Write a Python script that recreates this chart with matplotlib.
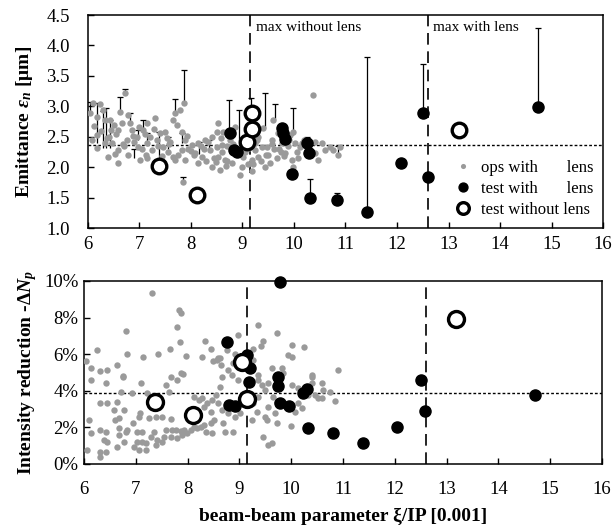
import matplotlib
matplotlib.use('Agg')
import matplotlib.pyplot as plt
import numpy as np

plt.rcParams['font.family'] = ['Liberation Serif', 'DejaVu Serif']
plt.rcParams['mathtext.fontset'] = 'custom'
plt.rcParams['mathtext.rm'] = 'Liberation Serif:bold'
plt.rcParams['mathtext.it'] = 'Liberation Serif:bold:italic'
plt.rcParams['mathtext.bf'] = 'Liberation Serif:bold'

# ---------------- data: top panel (emittance) ----------------
ops_top_x = [6.04,6.10,6.23,6.17,6.29,6.33,6.43,6.45,6.62,6.72,6.78,6.82,6.66,6.58,6.85,6.95,7.07,7.15,7.30,7.40,
             7.53,7.65,7.79,7.86,7.69,7.83,6.17,6.17,6.33,6.47,6.39,6.58,6.58,6.78,6.76,6.97,7.01,7.15,7.25,7.34,
             7.46,7.56,7.65,7.83,7.88,8.02,8.14,8.27,8.41,8.51,8.08,8.21,8.37,8.51,8.14,7.69,7.88,7.15,7.84,8.95,
             8.52,8.62,8.60,8.76,8.85,8.52,8.66,8.80,8.56,9.01,8.99,9.18,9.30,9.40,9.48,9.57,9.59,9.67,9.54,9.44,
             9.77,9.92,9.98,10.02,10.12,9.96,9.83,9.98,10.41,10.54,10.60,10.70,10.76,10.85,10.89,10.41,10.47,9.24,9.38,8.85,
             9.69,10.37,9.18,
             6.08,6.25,6.40,6.55,6.70,6.90,7.05,7.20,7.35,7.50,7.60,7.75,7.95,8.05,8.20,8.30,8.45,8.60,8.70,8.90,
             9.05,9.10,9.25,9.35,9.50,9.62,9.75,9.88,10.05,10.20,8.40,8.70,9.00,9.30,7.10,6.50,
             6.12,6.36,6.52,6.68,6.88,7.00,7.12,7.28,7.44,7.58,7.72,7.92,8.00,8.25,8.33,8.48,8.58,8.68,8.82,9.12,
             9.20,9.28,9.45,9.58,9.70,9.80,9.90,10.08,10.16,10.30]
ops_top_y = [2.89,3.05,3.04,2.83,2.94,2.78,2.78,2.61,2.91,3.22,2.86,2.73,2.73,2.61,2.61,2.50,2.61,2.73,2.81,2.56,
             2.48,2.78,2.94,3.05,2.89,2.58,2.53,2.32,2.40,2.40,2.17,2.28,2.07,2.20,2.45,2.33,2.12,2.40,2.28,2.45,
             2.33,2.25,2.17,2.28,2.45,2.37,2.40,2.45,2.50,2.58,2.23,2.17,2.28,2.33,2.07,2.12,2.12,2.15,1.76,1.87,
             2.73,2.58,2.37,2.45,2.66,2.17,2.12,2.07,1.95,2.17,2.00,2.12,2.17,2.64,2.33,2.45,2.78,2.15,2.07,2.00,
             2.40,2.53,2.58,2.40,2.33,2.12,2.23,2.00,2.42,2.40,2.28,2.33,2.28,2.20,2.33,2.23,2.12,2.28,2.33,2.23,
             2.56,3.19,1.94,
             2.45,2.60,2.50,2.55,2.35,2.42,2.30,2.50,2.35,2.58,2.42,2.20,2.30,2.20,2.35,2.10,2.15,2.25,2.10,2.30,
             2.25,2.05,2.40,2.10,2.20,2.30,2.25,2.35,2.25,2.45,2.00,2.35,2.45,2.50,2.55,2.70,
             2.68,2.48,2.22,2.38,2.52,2.66,2.20,2.62,2.18,2.38,2.70,2.52,2.26,2.30,2.42,2.08,2.48,2.02,2.38,2.32,
             2.05,2.45,2.20,2.38,2.30,2.18,2.45,2.15,2.40,2.30]

# ops points carrying (upper) error bars: base value and top of bar
ops_bar_x   = [6.04,6.17,6.29,6.43,6.62,6.72,6.82,6.97,7.07,7.15,7.37,7.69,7.82,7.86,8.15,8.35,
               8.74,8.93,9.16,9.44,9.63,9.98,7.84,6.35,6.90,7.55,10.25,10.85]
ops_bar_y   = [2.85,2.40,2.32,2.32,2.91,3.22,2.73,2.45,2.61,2.40,2.12,2.89,2.40,3.05,2.22,2.25,
               2.60,2.45,2.60,2.64,2.78,2.53,1.76,2.31,2.15,2.30,2.30,2.20]
ops_bar_top = [3.07,3.05,2.93,2.78,3.15,3.29,2.89,2.61,2.78,2.56,2.58,3.12,2.56,3.60,2.41,2.45,
               3.10,2.94,3.14,3.22,3.04,2.97,1.84,2.98,2.30,2.50,2.50,2.35]

test_top_x  = [8.76,8.83,8.89,9.77,9.79,9.83,9.96,10.25,10.29,10.31,10.83,11.42,12.08,12.50,12.60,14.74]
test_top_y  = [2.56,2.28,2.25,2.64,2.56,2.47,1.89,2.39,2.23,1.50,1.46,1.27,2.07,2.89,1.84,2.99]
test_top_hi = [2.56,2.28,2.25,2.64,2.56,2.47,1.89,2.39,2.23,1.81,1.58,3.81,2.07,3.70,1.84,4.29]

nolens_top_x = [7.38,8.12,9.08,9.18,9.18,13.20]
nolens_top_y = [2.02,1.54,2.42,2.63,2.89,2.61]

# ---------------- data: bottom panel (intensity reduction, %) ----------------
ops_bot_x = [6.04,6.13,6.25,6.31,6.44,6.64,6.75,6.81,6.83,7.14,7.31,7.43,7.66,7.80,7.83,7.87,7.85,7.97,7.91,8.28,
             8.34,8.45,8.49,8.59,
             6.13,6.42,6.44,6.64,6.75,6.71,7.10,6.10,6.13,6.06,6.31,6.42,6.39,6.44,6.31,6.42,6.31,6.58,6.60,6.68,
             6.77,6.68,6.81,6.83,6.68,6.77,6.64,6.95,7.02,7.06,7.12,7.02,7.12,6.97,7.06,7.20,7.20,7.29,7.35,7.41,
             7.51,7.39,7.54,7.58,7.51,7.68,7.70,7.78,7.87,7.93,7.68,7.80,7.89,7.99,8.07,8.12,8.18,8.26,8.32,8.45,
             8.51,8.36,8.47,8.12,8.22,8.28,8.37,8.47,8.55,8.32,8.18,8.45,7.39,7.58,7.64,7.68,7.80,7.87,7.22,
             9.36,9.72,8.97,9.46,9.42,9.26,10.02,10.25,9.94,10.02,8.76,8.63,8.92,8.64,8.78,8.88,9.26,9.36,9.63,9.82,
             9.84,10.40,10.90,8.57,
             8.66,8.86,8.97,9.36,9.44,9.49,9.55,9.65,9.73,10.02,10.13,10.40,10.40,10.59,10.61,10.75,10.46,10.52,10.59,10.32,
             10.13,10.21,10.07,8.59,8.66,8.68,8.78,8.92,8.88,8.72,9.01,9.24,9.34,9.49,9.53,9.46,9.55,9.63,9.69,9.73,
             10.00,8.63,9.36,9.26,9.55,
             6.92,7.08,7.25,6.31,10.85]
ops_bot_y = [5.63,5.25,6.23,5.08,5.14,5.41,4.81,7.27,6.01,5.85,9.34,6.01,6.28,7.49,8.42,8.25,6.67,5.90,4.92,5.85,
             6.72,6.28,5.63,5.79,
             4.59,4.43,3.33,3.39,4.75,3.93,4.43,2.40,1.69,0.77,1.86,1.75,1.31,1.20,0.66,0.66,0.38,2.95,2.40,2.51,
             2.95,1.97,1.75,1.86,1.58,1.20,0.93,2.24,1.75,2.57,1.75,1.20,1.20,0.93,0.77,0.77,1.15,1.48,1.75,1.31,
             1.20,1.04,1.48,1.86,2.57,2.46,1.86,1.86,1.80,1.86,1.48,1.42,1.58,1.69,1.86,2.02,1.97,2.02,2.13,2.24,
             2.40,1.75,1.69,3.66,3.50,3.61,3.33,3.50,3.77,3.11,2.79,2.84,2.57,4.32,3.93,4.75,4.59,4.97,3.88,
             7.60,7.16,7.05,6.72,6.45,6.28,6.50,6.39,5.96,5.85,6.23,5.79,6.01,5.41,5.14,5.52,5.68,4.86,5.25,5.25,
             4.97,4.86,5.14,5.68,
             4.75,4.86,4.59,4.59,4.32,4.04,4.43,3.66,3.39,4.32,4.15,4.75,4.43,4.43,4.04,3.93,3.77,3.61,3.61,3.77,
             3.33,3.06,2.84,3.33,2.95,2.24,2.79,2.57,1.75,1.75,2.79,2.40,2.84,2.57,2.40,1.48,1.04,1.15,2.79,2.24,
             2.08,4.21,3.66,3.33,3.11,
             3.88,2.79,2.50,3.33,3.44]

test_bot_x = [8.76,9.78,9.15,9.20,9.19,8.80,8.91,9.75,9.74,9.78,9.96,10.23,10.30,10.33,10.81,11.39,12.04,12.50,12.58,14.71]
test_bot_y = [6.67,9.95,5.96,5.25,4.48,3.22,3.17,4.75,4.26,3.33,3.17,3.88,4.10,1.97,1.69,1.15,2.02,4.59,2.90,3.77]

nolens_bot_x = [7.37,8.10,9.05,9.15,13.18]
nolens_bot_y = [3.39,2.68,5.57,3.55,7.92]

# reference lines
xi_max_without = 9.15
xi_max_with = 12.6
emit_ref = 2.37
loss_ref = 3.9

x_ticks = [6, 7, 8, 9, 10, 11, 12, 13, 14, 15, 16]
top_ticks = [1.0, 1.5, 2.0, 2.5, 3.0, 3.5, 4.0, 4.5]
bot_ticks = [0, 2, 4, 6, 8, 10]

GRAY = '#9a9a9a'

fig = plt.figure(figsize=(6.14, 5.25), dpi=100)
ax1 = fig.add_axes([0.1433, 0.5657, 0.8388, 0.4057])
ax2 = fig.add_axes([0.1368, 0.1162, 0.8436, 0.3486])

# ---- top panel ----
ax1.vlines(ops_bar_x, ops_bar_y, ops_bar_top, color='black', lw=0.9, zorder=2)
ax1.plot(ops_bar_x, ops_bar_top, ls='none', marker='_', ms=5, mew=0.9, color='black', zorder=2)
ax1.plot(ops_top_x, ops_top_y, ls='none', marker='o', ms=4.6, color=GRAY, mec='none', zorder=3,
         label='ops with       lens')
ax1.vlines(test_top_x, test_top_y, test_top_hi, color='black', lw=0.9, zorder=4)
tx = np.array(test_top_x); ty = np.array(test_top_y); th = np.array(test_top_hi)
m = th > ty
ax1.plot(tx[m], th[m], ls='none', marker='_', ms=5, mew=0.9, color='black', zorder=4)
ax1.plot(test_top_x, test_top_y, ls='none', marker='o', ms=8, color='black', zorder=5,
         label='test with       lens')
ax1.plot(nolens_top_x, nolens_top_y, ls='none', marker='o', ms=10.5, mfc='white', mec='black', mew=2.4,
         zorder=6, label='test without lens')

ax1.axvline(xi_max_without, color='black', lw=1.2, dashes=(7, 4), zorder=1)
ax1.axvline(xi_max_with, color='black', lw=1.2, dashes=(7, 4), zorder=1)
ax1.axhline(emit_ref, color='black', lw=1.0, dashes=(2, 1.5), zorder=1)
ax1.text(xi_max_without + 0.12, 4.3, 'max without lens', fontsize=11, va='center', ha='left')
ax1.text(xi_max_with + 0.1, 4.3, 'max with lens', fontsize=11, va='center', ha='left')

ax1.set_xlim(6, 16)
ax1.set_ylim(1.0, 4.5)
ax1.set_xticks(x_ticks)
ax1.set_yticks(top_ticks)
ax1.set_yticklabels([f'{v:.1f}' for v in top_ticks])
ax1.set_ylabel(r'Emittance $\varepsilon_n$ [μm]', fontsize=14, fontweight='bold', labelpad=8)
leg = ax1.legend(loc='lower right', frameon=False, fontsize=12, handletextpad=0.35,
                 labelspacing=0.3, borderaxespad=0.2, handlelength=1.4, markerscale=0.8)

# ---- bottom panel ----
ax2.plot(ops_bot_x, ops_bot_y, ls='none', marker='o', ms=4.6, color=GRAY, mec='none', zorder=3)
ax2.plot(test_bot_x, test_bot_y, ls='none', marker='o', ms=8, color='black', zorder=5, clip_on=False)
ax2.plot(nolens_bot_x, nolens_bot_y, ls='none', marker='o', ms=11.5, mfc='white', mec='black', mew=2.4, zorder=6)
ax2.axvline(xi_max_without, color='black', lw=1.2, dashes=(7, 4), zorder=1)
ax2.axvline(xi_max_with, color='black', lw=1.2, dashes=(7, 4), zorder=1)
ax2.axhline(loss_ref, color='black', lw=1.0, dashes=(2, 1.5), zorder=1)

ax2.set_xlim(6, 16)
ax2.set_ylim(0, 10)
ax2.set_xticks(x_ticks)
ax2.set_yticks(bot_ticks)
ax2.set_yticklabels([f'{v}%' for v in bot_ticks])
ax2.set_ylabel(r'Intensity reduction -Δ$N_p$', fontsize=14, fontweight='bold', labelpad=4)
ax2.set_xlabel('beam-beam parameter ξ/IP [0.001]', fontsize=14, fontweight='bold', labelpad=7)

for ax in (ax1, ax2):
    ax.tick_params(direction='in', length=4, width=1, labelsize=13.5, top=False, right=False)
    for s in ax.spines.values():
        s.set_linewidth(1.1)
ax1.tick_params(axis='y', pad=13)
ax1.tick_params(axis='x', pad=6)
ax2.tick_params(axis='y', pad=4)
ax2.tick_params(axis='x', pad=12)

fig.savefig('out.png', dpi=100)
